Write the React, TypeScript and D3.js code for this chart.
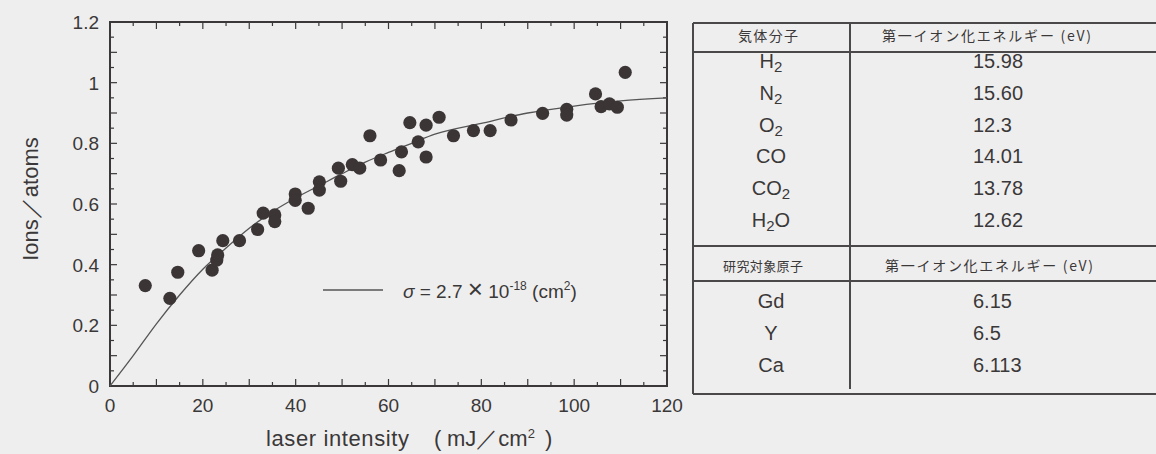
import React from 'react'
import * as d3 from 'd3'

// measured points (laser intensity mJ/cm2, ions/atoms)
const intensity = [7.6, 12.9, 14.6, 19.1, 22.0, 23.0, 23.2, 24.3, 27.9, 31.8, 33.0, 35.5, 35.5, 39.9, 39.9, 42.7, 45.1, 45.1, 49.2, 49.7, 52.2, 53.8, 56.0, 58.3, 62.3, 62.8, 64.6, 66.4, 68.1, 68.1, 70.9, 74.0, 78.3, 81.9, 86.4, 93.2, 98.4, 98.4, 104.6, 105.8, 107.6, 109.3, 111.0]
const ionRatio = [0.331, 0.289, 0.375, 0.446, 0.382, 0.415, 0.432, 0.479, 0.479, 0.516, 0.570, 0.564, 0.542, 0.633, 0.612, 0.586, 0.673, 0.646, 0.718, 0.675, 0.730, 0.718, 0.825, 0.745, 0.710, 0.772, 0.868, 0.805, 0.860, 0.755, 0.886, 0.825, 0.842, 0.842, 0.877, 0.899, 0.912, 0.893, 0.963, 0.921, 0.930, 0.919, 1.034]

// fitted curve
const fitX = [0, 5, 10, 15, 20, 25, 30, 35, 40, 45, 50, 55, 60, 65, 70, 80, 90, 100, 110, 120]
const fitY = [0, 0.10, 0.205, 0.30, 0.385, 0.455, 0.52, 0.575, 0.62, 0.66, 0.70, 0.738, 0.77, 0.80, 0.83, 0.866, 0.90, 0.923, 0.94, 0.95]

const xTickLabels = ['0', '20', '40', '60', '80', '100', '120']
const yTickLabels = ['0', '0.2', '0.4', '0.6', '0.8', '1', '1.2']

// table
const gasHeader = '気体分子'
const atomHeader = '研究対象原子'
const energyHeader = '第一イオン化エネルギー (eV)'
const gasMolecules = [['H', '2'], ['N', '2'], ['O', '2'], ['CO'], ['CO', '2'], ['H', '2', 'O']]
const gasEnergies = ['15.98', '15.60', '12.3', '14.01', '13.78', '12.62']
const targetAtoms = ['Gd', 'Y', 'Ca']
const atomEnergies = ['6.15', '6.5', '6.113']

const W = 1156
const H = 454
const font = '"Liberation Sans", Arial, sans-serif'
const cjk = '"Noto Sans CJK JP", "Noto Sans CJK SC", sans-serif'
const ink = '#3a3838'

const App: React.FC = () => {
  const margin = { top: 22, right: 489, bottom: 68, left: 110 }
  const x = d3.scaleLinear().domain([0, 120]).range([margin.left, W - margin.right])
  const y = d3.scaleLinear().domain([0, 1.2]).range([H - margin.bottom, margin.top])

  const xTicks = d3.range(0, 121, 5)
  const yTicks = d3.range(0, 24.5, 1).map(i => i * 0.05)

  const line = d3.line<number>()
    .x(i => x(fitX[i]))
    .y(i => y(fitY[i]))
    .curve(d3.curveMonotoneX)

  // table geometry
  const tLeft = 693
  const tDiv = 850
  const tLines = [23, 52, 246, 281, 394]
  const gasRow = d3.scaleLinear().domain([0, 5]).range([68, 227])
  const atomRow = d3.scaleLinear().domain([0, 2]).range([308, 372])
  const nameX = 771
  const valX = 973

  return (
    <svg width={W} height={H} style={{ position: 'absolute', left: 0, top: 0 }}>
      <rect x={0} y={0} width={W} height={H} fill="#efeeee" />

      {/* ticks */}
      {xTicks.map(t => {
        const len = t % 10 === 0 ? 7 : 4
        return (
          <g key={'xt' + t} stroke={ink} strokeWidth={1.2}>
            <line x1={x(t)} x2={x(t)} y1={y(0)} y2={y(0) - len} />
            <line x1={x(t)} x2={x(t)} y1={y(1.2)} y2={y(1.2) + len} />
          </g>
        )
      })}
      {yTicks.map((t, i) => {
        const len = i % 2 === 0 ? 7 : 4
        return (
          <g key={'yt' + i} stroke={ink} strokeWidth={1.2}>
            <line x1={x(0)} x2={x(0) + len} y1={y(t)} y2={y(t)} />
            <line x1={x(120)} x2={x(120) - len} y1={y(t)} y2={y(t)} />
          </g>
        )
      })}

      <rect x={x(0)} y={y(1.2)} width={x(120) - x(0)} height={y(0) - y(1.2)}
        fill="none" stroke={ink} strokeWidth={2} />

      {/* tick labels */}
      {xTickLabels.map(l => (
        <text key={'xl' + l} x={x(+l)} y={y(0) + 26} textAnchor="middle"
          fontFamily={font} fontSize={19} fill={ink}>{l}</text>
      ))}
      {yTickLabels.map(l => (
        <text key={'yl' + l} x={x(0) - 11} y={y(+l) + 7} textAnchor="end"
          fontFamily={font} fontSize={19} fill={ink}>{l}</text>
      ))}

      {/* axis titles */}
      <text y={446} fontFamily={font} fontSize={22} fill={ink}>
        <tspan x={266} textLength={143}>laser intensity</tspan>
        <tspan x={434}>(</tspan>
        <tspan x={447}>mJ／cm</tspan>
        <tspan fontSize={13} dy={-8}>2</tspan>
        <tspan x={545} dy={8}>)</tspan>
      </text>
      <text transform="translate(38,199) rotate(-90)" textAnchor="middle"
        fontFamily={font} fontSize={22} fill={ink}>Ions／atoms</text>

      {/* fit curve */}
      <path d={line(d3.range(fitX.length)) || ''} fill="none" stroke="#555" strokeWidth={1.3} />

      {/* points */}
      {intensity.map((v, i) => (
        <circle key={'p' + i} cx={x(v)} cy={y(ionRatio[i])} r={6.6} fill="#3b3536" />
      ))}

      {/* legend */}
      <line x1={323} x2={383} y1={290} y2={290} stroke="#555" strokeWidth={1.5} />
      <text x={403} y={298} fontFamily={font} fontSize={19} fill={ink}>
        <tspan fontStyle="italic">σ</tspan>
        <tspan> = 2.7 </tspan>
        <tspan fontSize={26} fontWeight={300}>×</tspan>
        <tspan> 10</tspan>
        <tspan fontSize={12} dy={-8}>-18</tspan>
        <tspan dy={8}> (cm</tspan>
        <tspan fontSize={12} dy={-8}>2</tspan>
        <tspan dy={8}>)</tspan>
      </text>

      {/* table */}
      <g stroke="#4a4848" strokeWidth={2}>
        {tLines.map(ty => (
          <line key={'tl' + ty} x1={tLeft} x2={W + 10} y1={ty} y2={ty} />
        ))}
        <line x1={tLeft} x2={tLeft} y1={tLines[0]} y2={tLines[4]} />
        <line x1={tDiv} x2={tDiv} y1={tLines[0]} y2={389} />
      </g>

      <text x={768} y={41} textAnchor="middle" fontFamily={cjk} fontSize={14}
        fill={ink} textLength={60} lengthAdjust="spacing">{gasHeader}</text>
      <text x={882} y={41} fontFamily={cjk} fontSize={14} fill={ink}
        textLength={209} lengthAdjust="spacing">{energyHeader}</text>
      <text x={763} y={271} textAnchor="middle" fontFamily={cjk} fontSize={13}
        fill={ink} textLength={80} lengthAdjust="spacing">{atomHeader}</text>
      <text x={885} y={271} fontFamily={cjk} fontSize={14} fill={ink}
        textLength={208} lengthAdjust="spacing">{energyHeader}</text>

      {gasMolecules.map((parts, i) => (
        <text key={'gm' + i} x={nameX} y={gasRow(i)} textAnchor="middle"
          fontFamily={font} fontSize={20} fill={ink}>
          {parts.map((p, j) => j % 2 === 1
            ? <tspan key={j} fontSize={15} dy={4}>{p}</tspan>
            : <tspan key={j} dy={j > 0 ? -4 : 0}>{p}</tspan>)}
        </text>
      ))}
      {gasEnergies.map((v, i) => (
        <text key={'ge' + i} x={valX} y={gasRow(i)} fontFamily={font} fontSize={20} fill={ink}>{v}</text>
      ))}
      {targetAtoms.map((a, i) => (
        <text key={'ta' + i} x={nameX} y={atomRow(i)} textAnchor="middle"
          fontFamily={font} fontSize={20} fill={ink}>{a}</text>
      ))}
      {atomEnergies.map((v, i) => (
        <text key={'ae' + i} x={valX} y={atomRow(i)} fontFamily={font} fontSize={20} fill={ink}>{v}</text>
      ))}
    </svg>
  )
}

export default App
